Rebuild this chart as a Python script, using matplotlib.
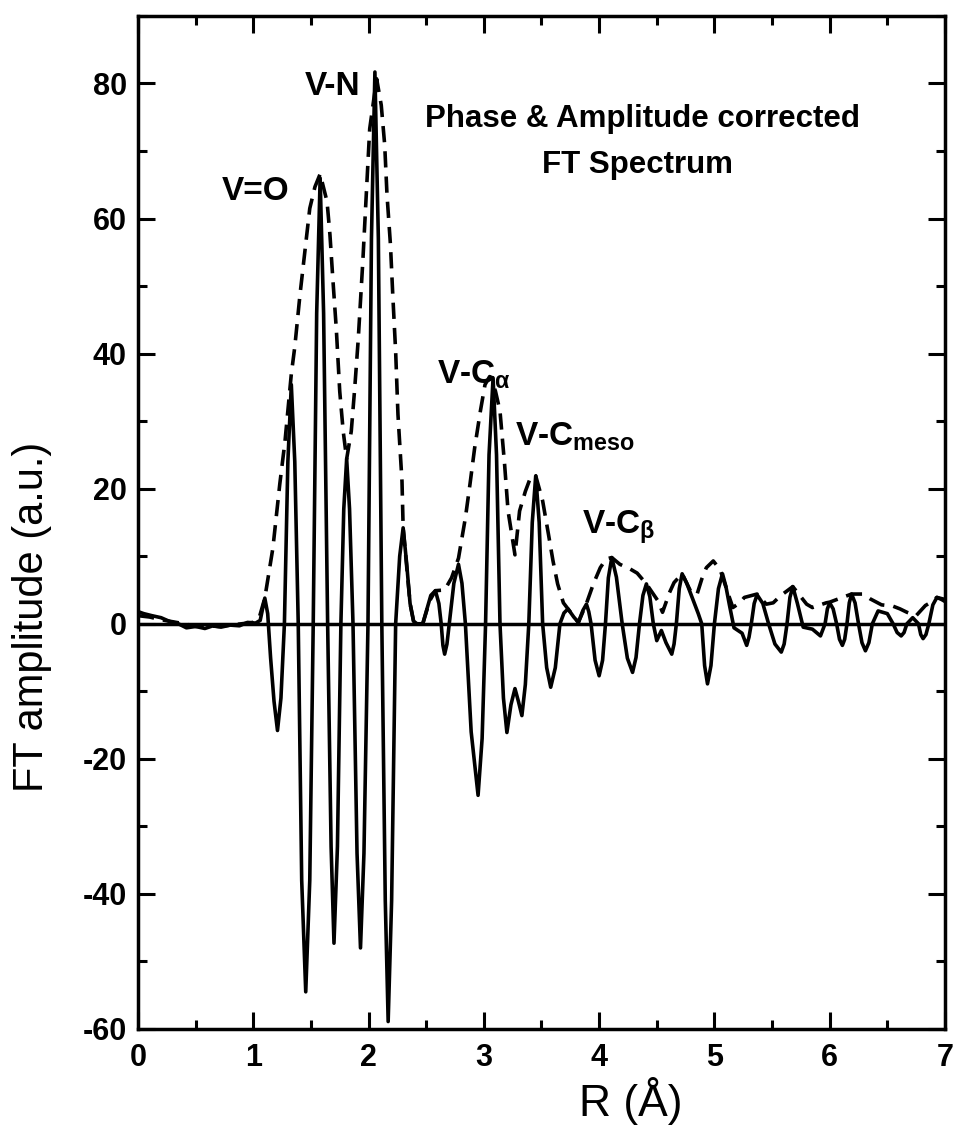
import matplotlib
matplotlib.use("Agg")
import matplotlib.pyplot as plt
from matplotlib.ticker import MultipleLocator

plt.rcParams['font.family'] = ['Liberation Sans', 'DejaVu Sans']
plt.rcParams['axes.unicode_minus'] = False
plt.rcParams['mathtext.fontset'] = 'custom'
plt.rcParams['mathtext.rm'] = 'Liberation Sans:bold'
plt.rcParams['mathtext.it'] = 'Liberation Sans:bold'
plt.rcParams['mathtext.bf'] = 'Liberation Sans:bold'

# Real part of FT (solid)
r_real = [0.00, 0.05, 0.12, 0.20, 0.28, 0.35, 0.42, 0.50, 0.58, 0.65, 0.72, 0.80, 0.88, 0.95, 1.02, 1.06,
          1.10, 1.125, 1.15, 1.18, 1.21, 1.24, 1.27, 1.30, 1.33, 1.36, 1.39, 1.42, 1.455, 1.49, 1.52,
          1.55, 1.58, 1.61, 1.645, 1.675, 1.70, 1.73, 1.76, 1.785, 1.81, 1.835, 1.865, 1.90, 1.93,
          1.96, 1.995, 2.025, 2.055, 2.085, 2.115, 2.145, 2.17, 2.20, 2.235, 2.27, 2.30, 2.33, 2.36,
          2.39, 2.42, 2.47, 2.50, 2.54, 2.58, 2.61, 2.63, 2.645, 2.66, 2.68, 2.70, 2.74, 2.78, 2.81,
          2.84, 2.89, 2.95, 2.985, 3.015, 3.045, 3.08, 3.11, 3.14, 3.17, 3.20, 3.235, 3.27, 3.30,
          3.33, 3.36, 3.39, 3.42, 3.45, 3.48, 3.51, 3.545, 3.58, 3.62, 3.66, 3.695, 3.73, 3.78, 3.82,
          3.86, 3.89, 3.91, 3.93, 3.965, 4.00, 4.03, 4.055, 4.08, 4.11, 4.15, 4.20, 4.245, 4.29,
          4.32, 4.35, 4.38, 4.41, 4.44, 4.47, 4.50, 4.54, 4.58, 4.63, 4.65, 4.67, 4.695, 4.72, 4.76,
          4.80, 4.86, 4.89, 4.915, 4.94, 4.97, 5.00, 5.035, 5.07, 5.10, 5.13, 5.17, 5.24, 5.28, 5.30,
          5.32, 5.345, 5.37, 5.42, 5.47, 5.525, 5.58, 5.605, 5.63, 5.655, 5.68, 5.72, 5.77, 5.85,
          5.92, 5.96, 5.98, 6.00, 6.03, 6.06, 6.085, 6.11, 6.13, 6.15, 6.17, 6.19, 6.22, 6.25, 6.28,
          6.31, 6.34, 6.37, 6.42, 6.50, 6.55, 6.585, 6.62, 6.645, 6.67, 6.72, 6.77, 6.79, 6.81, 6.835,
          6.86, 6.895, 6.93, 6.97, 7.00]
ft_real = [1.8, 1.5, 1.2, 0.9, 0.3, 0.0, -0.6, -0.4, -0.7, -0.3, -0.5, -0.2, -0.3, 0.2, 0.1, 0.5,
           3.8, 1.5, -5.0, -11.5, -15.8, -11.0, 0.0, 24.0, 35.4, 24.0, 0.0, -38.0, -54.5, -38.0, 0.0,
           46.0, 66.0, 46.0, 0.0, -33.0, -47.3, -33.0, 0.0, 17.0, 24.4, 17.0, 0.0, -34.0, -48.0,
           -34.0, 0.0, 57.0, 81.7, 57.0, 0.0, -41.0, -58.9, -41.0, 0.0, 10.0, 14.2, 9.0, 3.0,
           0.4, 0.0, 0.0, 1.8, 4.2, 4.9, 3.0, 0.0, -3.2, -4.5, -3.0, 0.0, 6.0, 8.8, 6.0,
           0.0, -16.0, -25.4, -17.0, 0.0, 25.0, 36.4, 25.0, 0.0, -11.0, -16.1, -12.0, -9.6, -11.5,
           -13.6, -9.0, 0.0, 15.0, 21.9, 15.0, 0.0, -6.5, -9.4, -6.5, 0.0, 1.6, 2.2, 1.0, 0.2,
           2.0, 2.9, 1.8, 0.0, -5.4, -7.7, -5.4, 0.0, 6.8, 9.8, 6.9, 0.0, -5.1, -7.2,
           -5.0, 0.0, 4.2, 5.9, 4.0, 0.0, -2.5, -1.0, -2.8, -4.5, -3.0, 0.0, 5.2, 7.4, 6.0,
           4.2, 1.5, 0.0, -6.2, -8.9, -6.2, 0.0, 5.2, 7.4, 5.5, 2.8, -0.6, -1.4, -3.2, -2.0,
           0.0, 3.0, 4.3, 3.0, 0.0, -3.0, -4.2, -3.0, 0.0, 3.9, 5.5, 3.0, -0.5, -0.8,
           -1.8, 0.0, 2.2, 3.1, 2.2, 0.0, -2.3, -3.2, -2.3, 0.0, 3.1, 4.4, 3.1, 0.0, -2.8,
           -4.0, -2.8, 0.0, 1.9, 1.5, 0.0, -1.3, -1.8, -1.3, 0.0, 0.9, 0.0, -1.6, -2.2, -1.6,
           0.0, 2.8, 3.9, 3.6, 3.3]

# Magnitude of FT (dashed)
r_mag = [0.00, 0.10, 0.20, 0.30, 0.40, 0.50, 0.60, 0.70, 0.80, 0.90, 1.00, 1.05, 1.10, 1.17, 1.23, 1.275,
         1.33, 1.36, 1.405, 1.45, 1.49, 1.535, 1.58, 1.64, 1.665, 1.69, 1.72, 1.75, 1.78, 1.81, 1.85,
         1.88, 1.91, 1.95, 1.98, 2.01, 2.07, 2.11, 2.14, 2.16, 2.19, 2.21, 2.235, 2.255, 2.29, 2.30,
         2.36, 2.39, 2.47, 2.53, 2.58, 2.66, 2.72, 2.78, 2.84, 2.88, 2.92, 2.97, 3.01, 3.05, 3.10,
         3.14, 3.18, 3.21, 3.27, 3.31, 3.36, 3.41, 3.45, 3.51, 3.56, 3.60, 3.64, 3.69, 3.73, 3.82,
         3.89, 3.95, 4.01, 4.06, 4.11, 4.18, 4.27, 4.33, 4.41, 4.51, 4.55, 4.61, 4.65, 4.72, 4.80,
         4.85, 4.89, 4.93, 4.99, 5.05, 5.12, 5.16, 5.22, 5.26, 5.37, 5.45, 5.51, 5.57, 5.68, 5.80,
         5.85, 5.97, 6.00, 6.11, 6.19, 6.29, 6.35, 6.45, 6.55, 6.61, 6.67, 6.75, 6.83, 6.87, 6.93, 7.00]
ft_mag = [1.2, 1.0, 0.6, 0.3, 0.0, -0.4, -0.3, -0.4, -0.2, 0.0, 0.2, 0.8, 3.8, 11.2, 20.7, 27.0,
          37.0, 41.0, 48.7, 55.5, 61.5, 64.7, 66.6, 62.5, 57.6, 51.1, 43.7, 34.4, 28.5, 24.4, 28.5,
          34.9, 42.0, 53.6, 63.5, 73.3, 80.7, 76.8, 70.9, 63.5, 56.1, 48.7, 40.3, 31.0, 21.1, 14.2,
          3.0, 0.4, 0.0, 3.4, 4.9, 5.0, 6.8, 9.7, 15.7, 20.7, 26.0, 31.5, 35.4, 36.6, 34.5,
          31.5, 23.6, 16.7, 10.2, 16.7, 19.6, 21.9, 21.9, 18.2, 13.3, 9.3, 5.9, 3.1, 2.2, 0.2,
          3.0, 5.9, 8.3, 9.6, 9.8, 8.8, 8.1, 7.5, 5.9, 3.4, 1.7, 4.6, 6.1, 7.4, 4.6,
          4.4, 6.6, 8.3, 9.3, 8.0, 4.4, 2.4, 3.1, 3.9, 4.4, 2.9, 3.1, 4.1, 5.5, 2.9,
          2.4, 3.1, 3.2, 3.9, 4.4, 4.4, 3.7, 2.8, 2.6, 2.2, 1.7, 1.2, 2.7, 3.1, 3.9, 3.6]

peak_labels = ['V=O', 'V-N', r'V-C$_{\alpha}$', r'V-C$_{meso}$', r'V-C$_{\beta}$']
label_pos = [(0.73, 62.8), (1.45, 78.3), (2.59, 35.6), (3.27, 26.4), (3.85, 13.4)]
title_lines = ['Phase & Amplitude corrected', 'FT Spectrum']

fig = plt.figure(figsize=(9.55, 11.4), dpi=100)
ax = fig.add_axes([0.1445, 0.0974, 0.845, 0.8886])

ax.axhline(0, color='black', lw=2.5, zorder=1)
ax.plot(r_real, ft_real, color='black', lw=2.6, solid_joinstyle='round', zorder=3)
ax.plot(r_mag, ft_mag, color='black', lw=2.6, linestyle=(0, (4.5, 2.5)), zorder=2)

ax.set_xlim(0, 7)
ax.set_ylim(-60, 90)
ax.xaxis.set_major_locator(MultipleLocator(1))
ax.xaxis.set_minor_locator(MultipleLocator(0.5))
ax.yaxis.set_major_locator(MultipleLocator(20))
ax.yaxis.set_minor_locator(MultipleLocator(10))
ax.tick_params(which='both', direction='in', top=True, right=True, width=2.2)
ax.tick_params(which='major', length=12, labelsize=22)
ax.tick_params(axis='x', which='major', pad=10)
ax.tick_params(axis='y', which='major', pad=8)
ax.tick_params(which='minor', length=6.5)
for lab in ax.get_xticklabels() + ax.get_yticklabels():
    lab.set_fontweight('bold')
for sp in ax.spines.values():
    sp.set_linewidth(2.5)

ax.set_xlabel('R (Å)', fontsize=32)
ax.set_ylabel('FT amplitude (a.u.)', fontsize=30)
ax.xaxis.set_label_coords(0.611, -0.047)
ax.yaxis.set_label_coords(-0.107, 0.407)

for txt, (x, y) in zip(peak_labels, label_pos):
    ax.text(x, y, txt, fontsize=24, fontweight='bold', ha='left', va='baseline')

ax.text(4.38, 74.7, title_lines[0], fontsize=22.5, fontweight='bold', ha='center', va='center')
ax.text(4.33, 68.0, title_lines[1], fontsize=22.5, fontweight='bold', ha='center', va='center')

fig.savefig('out.png', dpi=100)
